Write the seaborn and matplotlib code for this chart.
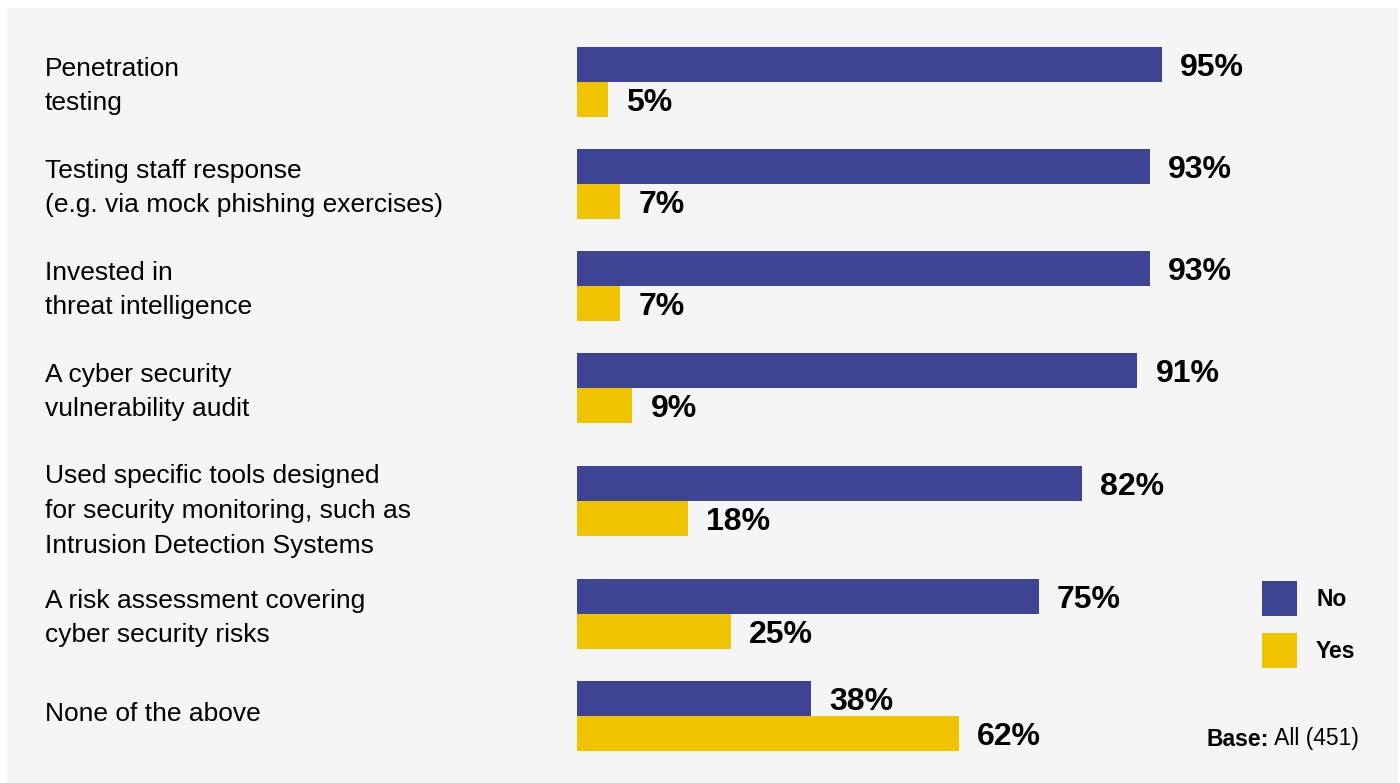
import matplotlib
matplotlib.use("Agg")
import matplotlib.pyplot as plt
from matplotlib.patches import Rectangle
from matplotlib.transforms import blended_transform_factory
import pandas as pd
import seaborn as sns

# Survey measures and the share answering No / Yes (%)
measures = [
    "Penetration\ntesting",
    "Testing staff response\n(e.g. via mock phishing exercises)",
    "Invested in\nthreat intelligence",
    "A cyber security\nvulnerability audit",
    "Used specific tools designed\nfor security monitoring, such as\nIntrusion Detection Systems",
    "A risk assessment covering\ncyber security risks",
    "None of the above",
]
no_values = [95, 93, 93, 91, 82, 75, 38]
yes_values = [5, 7, 7, 9, 18, 25, 62]
answers = ["No", "Yes"]
base_note_bold = "Base:"
base_note = " All (451)"

NAVY = "#3c4493"
GOLD = "#f0c400"
PANEL = "#f5f5f5"

W, H = 1400, 783
sns.set_theme(style="white")
plt.rcParams["font.family"] = ["Liberation Sans", "DejaVu Sans"]

# Row positions (pixel units): extra room around rows with three-line labels
n_lines = [m.count("\n") + 1 for m in measures]
rows = [82.0]
for a, b in zip(n_lines[:-1], n_lines[1:]):
    gap = 102 + (11 if max(a, b) > 2 else 0)
    rows.append(rows[-1] + gap)

df = pd.DataFrame({
    "row": rows * 2,
    "value": no_values + yes_values,
    "answer": ["No"] * len(rows) + ["Yes"] * len(rows),
})

fig = plt.figure(figsize=(W / 100, H / 100), dpi=100)
fig.patch.set_facecolor("white")
fig.add_artist(Rectangle((7 / W, 0), (1398 - 7) / W, (H - 8) / H,
                         transform=fig.transFigure, facecolor=PANEL,
                         edgecolor="none", zorder=0))

x0 = 577
px_per_pct = 6.158
ax = fig.add_axes([x0 / W, 0, (W - x0) / W, 1])
ax.set_facecolor("none")

sns.barplot(data=df, x="value", y="row", hue="answer", hue_order=answers,
            orient="h", native_scale=True, palette=[NAVY, GOLD],
            width=0.68, saturation=1, legend=False, linewidth=0, ax=ax)

ax.set_xlim(0, (W - x0) / px_per_pct)
ax.set_ylim(H, 0)
ax.set_axis_off()

for cont in ax.containers:
    labels = ax.bar_label(cont, fmt="%g%%", padding=13, fontsize=23,
                          fontweight="bold", color="black")
    for lab in labels:
        lab.xyann = (13, -2.5)

# Category labels on the left
trans = blended_transform_factory(fig.transFigure, ax.transData)
for m, r, n in zip(measures, rows, n_lines):
    ax.text(45 / W, r + 4 + 6 * (n - 2), m, transform=trans, ha="left",
            va="center", fontsize=19, color="black", linespacing=1.56)

# Legend
for i, (lab, col) in enumerate(zip(answers, [NAVY, GOLD])):
    top = 581 + i * 52
    fig.add_artist(Rectangle((1262 / W, 1 - (top + 35) / H), 35 / W, 35 / H,
                             transform=fig.transFigure, facecolor=col,
                             edgecolor="none"))
    fig.text(1316 / W, 1 - (top + 19) / H, lab, ha="left", va="center",
             fontsize=16.5, fontweight="bold", color="black")

# Base note
t1 = fig.text(1207 / W, 1 - 739 / H, base_note_bold, ha="left", va="center",
              fontsize=16.5, fontweight="bold", color="black")
fig.canvas.draw()
bb = t1.get_window_extent()
fig.text(bb.x1 / W, 1 - 739 / H, base_note, ha="left", va="center",
         fontsize=16.5, color="black")

fig.savefig("out.png", dpi=100, facecolor="white")
